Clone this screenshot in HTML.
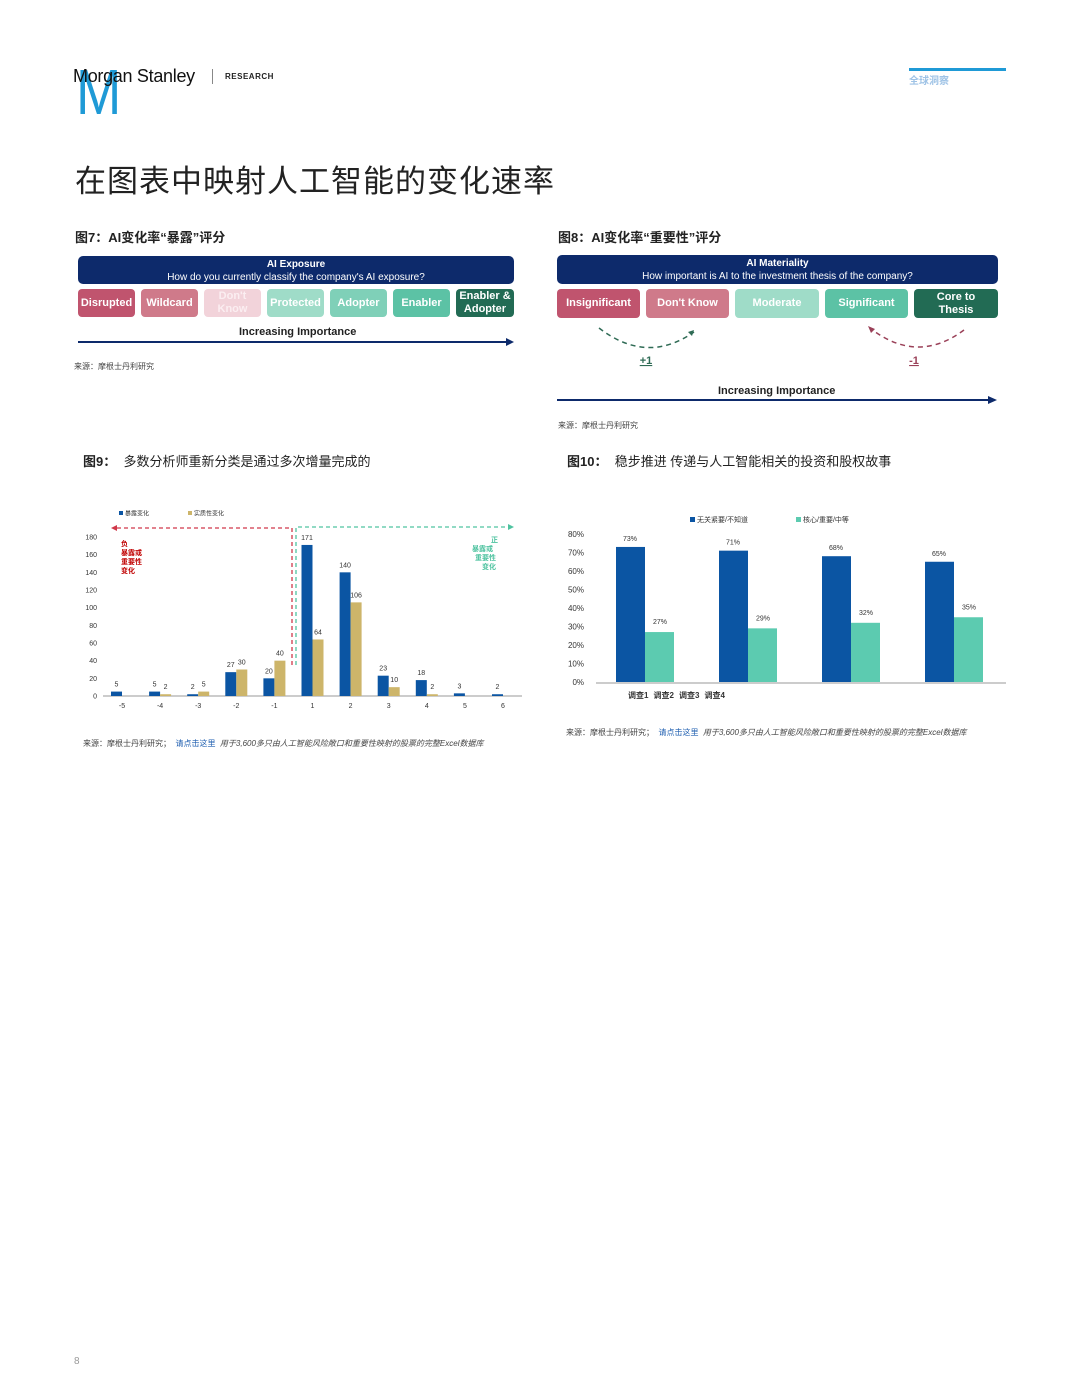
<!DOCTYPE html>
<html><head><meta charset="utf-8"><style>
body{margin:0;background:#fff;}
#page{position:relative;width:1080px;height:1398px;overflow:hidden;font-family:"Liberation Sans","Noto Sans CJK SC",sans-serif;color:#222;}
.abs{position:absolute;}
.box{position:absolute;border-radius:4px;color:#fff;font-weight:bold;font-size:11px;display:flex;align-items:center;justify-content:center;text-align:center;line-height:13px;box-sizing:border-box;}
.hdr{position:absolute;background:#0d2a6b;border-radius:5px;color:#fff;text-align:center;font-size:10px;line-height:13px;padding-top:2px;box-sizing:border-box;}
.src{position:absolute;font-size:8px;color:#444;}
</style></head><body><div id="page">

<div class="abs" style="left:76px;top:60px;font-size:64px;color:#1f9ad6;line-height:64px;transform:scaleX(0.85);transform-origin:left top;">M</div>
<div class="abs" style="left:73px;top:66px;font-size:18px;letter-spacing:-0.3px;color:#111;">Morgan Stanley</div>
<div class="abs" style="left:212px;top:69px;width:1px;height:15px;background:#888;"></div>
<div class="abs" style="left:225px;top:72px;font-size:8px;font-weight:bold;letter-spacing:0.5px;">RESEARCH</div>
<div class="abs" style="left:909px;top:68px;width:97px;height:3px;background:#1f9ad6;"></div>
<div class="abs" style="left:909px;top:72px;font-size:10px;color:#9fc3e6;font-weight:bold;">全球洞察</div>

<div class="abs" style="left:75px;top:156px;font-size:31px;color:#222;letter-spacing:1px;">在图表中映射人工智能的变化速率</div>

<!-- Fig 7 -->
<div class="abs" style="left:75px;top:227px;font-size:13px;font-weight:bold;">图7：AI变化率“暴露”评分</div>
<div class="hdr" style="left:78px;top:256px;width:436px;height:28px;"><b>AI Exposure</b><br>How do you currently classify the company's AI exposure?</div>
<div class="box" style="left:78px;top:289px;width:57px;height:28px;background:#c0546e;">Disrupted</div>
<div class="box" style="left:141px;top:289px;width:57px;height:28px;background:#cf7a8a;">Wildcard</div>
<div class="box" style="left:204px;top:289px;width:57px;height:28px;background:#f2d3da;color:#fbeef1;">Don't<br>Know</div>
<div class="box" style="left:267px;top:289px;width:57px;height:28px;background:#9fdcc8;">Protected</div>
<div class="box" style="left:330px;top:289px;width:57px;height:28px;background:#7fd0b8;">Adopter</div>
<div class="box" style="left:393px;top:289px;width:57px;height:28px;background:#5cc2a5;">Enabler</div>
<div class="box" style="left:456px;top:289px;width:58px;height:28px;background:#226b54;">Enabler &amp;<br>Adopter</div>
<div class="abs" style="left:239px;top:326px;font-size:11px;font-weight:bold;">Increasing Importance</div>
<svg class="abs" style="left:78px;top:337px" width="440" height="10"><line x1="0" y1="5" x2="430" y2="5" stroke="#0d2a6b" stroke-width="2"/><polygon points="428,1 436,5 428,9" fill="#0d2a6b"/></svg>
<div class="src" style="left:74px;top:361px;">来源：摩根士丹利研究</div>

<!-- Fig 8 -->
<div class="abs" style="left:558px;top:227px;font-size:13px;font-weight:bold;">图8：AI变化率“重要性”评分</div>
<div class="hdr" style="left:557px;top:255px;width:441px;height:29px;"><b>AI Materiality</b><br>How important is AI to the investment thesis of the company?</div>
<div class="box" style="left:557px;top:289px;width:83px;height:29px;background:#c0546e;">Insignificant</div>
<div class="box" style="left:646px;top:289px;width:83px;height:29px;background:#cf7a8a;">Don't Know</div>
<div class="box" style="left:735px;top:289px;width:84px;height:29px;background:#9fdcc8;">Moderate</div>
<div class="box" style="left:825px;top:289px;width:83px;height:29px;background:#5cc2a5;">Significant</div>
<div class="box" style="left:914px;top:289px;width:84px;height:29px;background:#226b54;">Core to<br>Thesis</div>
<svg class="abs" style="left:557px;top:320px" width="441" height="90">
<path d="M42,8 Q90,45 137,12" fill="none" stroke="#2f6b55" stroke-width="1.5" stroke-dasharray="5,4"/><polygon points="137,10 131,12 135,16" fill="#2f6b55"/>
<path d="M407,10 Q360,45 313,8" fill="none" stroke="#9a4058" stroke-width="1.5" stroke-dasharray="5,4"/><polygon points="311,6 314,13 318,9" fill="#9a4058"/>
<text x="89" y="44" font-size="11" font-weight="bold" fill="#2f6b55" text-anchor="middle" text-decoration="underline" font-family="Liberation Sans">+1</text>
<text x="357" y="44" font-size="11" font-weight="bold" fill="#9a4058" text-anchor="middle" text-decoration="underline" font-family="Liberation Sans">-1</text>
<line x1="0" y1="80" x2="432" y2="80" stroke="#0d2a6b" stroke-width="2"/><polygon points="431,76 440,80 431,84" fill="#0d2a6b"/>
</svg>
<div class="abs" style="left:718px;top:385px;font-size:11px;font-weight:bold;">Increasing Importance</div>
<div class="src" style="left:558px;top:420px;">来源：摩根士丹利研究</div>

<!-- Fig 9 -->
<div class="abs" style="left:83px;top:451px;font-size:13px;"><b>图9：</b>&nbsp; 多数分析师重新分类是通过多次增量完成的</div>
<svg id="c9" class="abs" style="left:0;top:0" width="1080" height="760"></svg>
<div class="src" style="left:83px;top:738px;width:440px;line-height:12px;">来源：摩根士丹利研究； &nbsp;<span style="color:#1f5fb0">请点击这里</span> &nbsp;<i>用于3,600多只由人工智能风险敞口和重要性映射的股票的完整Excel数据库</i></div>

<!-- Fig 10 -->
<div class="abs" style="left:567px;top:451px;font-size:13px;"><b>图10：</b>&nbsp; 稳步推进 传递与人工智能相关的投资和股权故事</div>
<svg id="c10" class="abs" style="left:0;top:0" width="1080" height="760"></svg>
<div class="src" style="left:566px;top:727px;width:440px;line-height:12px;">来源：摩根士丹利研究； &nbsp;<span style="color:#1f5fb0">请点击这里</span> &nbsp;<i>用于3,600多只由人工智能风险敞口和重要性映射的股票的完整Excel数据库</i></div>

<div class="abs" style="left:74px;top:1356px;font-size:10px;color:#999;">8</div>

<script>
const NS='http://www.w3.org/2000/svg';
const c9Cats=['-5','-4','-3','-2','-1','1','2','3','4','5','6'];
const c9Exposure=[5,5,2,27,20,171,140,23,18,3,2];
const c9Material=[null,2,5,30,40,64,106,10,2,null,null];
const c9Ticks=[0,20,40,60,80,100,120,140,160,180];
const c10Cats=['调查1','调查2','调查3','调查4'];
const c10Low=[73,71,68,65];
const c10High=[27,29,32,35];
const c10Ticks=[0,10,20,30,40,50,60,70,80];

function mk(p,tag,a,t){const e=document.createElementNS(NS,tag);for(const k in a)e.setAttribute(k,a[k]);if(t!==undefined)e.textContent=t;p.appendChild(e);return e;}
const F='Liberation Sans, Noto Sans CJK SC, sans-serif';

// Fig 9
const s9=document.getElementById('c9');
const y9=v=>696-v*(159/180);
const x9=i=>122+i*38.1;
c9Ticks.forEach(t=>{const e=mk(s9,'text',{x:97,y:y9(t)+2.5,'font-size':7,'text-anchor':'end','font-family':F,fill:'#333'},t);

});
mk(s9,'line',{x1:103,y1:696,x2:522,y2:696,stroke:'#999','stroke-width':1});
c9Cats.forEach((c,i)=>{
 const cx=x9(i);
 const lab=mk(s9,'text',{x:cx,y:708,'font-size':7,'text-anchor':'middle','font-family':F,fill:'#333'},c);
 
 
 const v=c9Exposure[i];
 const b=mk(s9,'rect',{x:cx-11,y:y9(v),width:11,height:696-y9(v),fill:'#0b55a3'});
 
 
 mk(s9,'text',{x:cx-5.5,y:y9(v)-5,'font-size':7,'text-anchor':'middle','font-family':F,fill:'#333'},v);
 const m=c9Material[i];
 if(m!==null){
  const b2=mk(s9,'rect',{x:cx,y:y9(m),width:11,height:696-y9(m),fill:'#cdb56a'});
  
  
  mk(s9,'text',{x:cx+5.5,y:y9(m)-5,'font-size':7,'text-anchor':'middle','font-family':F,fill:'#333'},m);
 }
});
mk(s9,'rect',{x:119,y:511,width:4,height:4,fill:'#0b55a3'});
mk(s9,'text',{x:125,y:515.5,'font-size':6,'font-family':F,fill:'#333'},'暴露变化');
mk(s9,'rect',{x:188,y:511,width:4,height:4,fill:'#cdb56a'});
mk(s9,'text',{x:194,y:515.5,'font-size':6,'font-family':F,fill:'#333'},'实质性变化');
mk(s9,'path',{d:'M292,665 L292,528 L114,528',fill:'none',stroke:'#d0384a','stroke-width':1.3,'stroke-dasharray':'4,3'});
mk(s9,'polygon',{points:'111,528 117,525 117,531',fill:'#d0384a'});
mk(s9,'path',{d:'M296,665 L296,527 L510,527',fill:'none',stroke:'#4fc3a0','stroke-width':1.3,'stroke-dasharray':'4,3'});
mk(s9,'polygon',{points:'514,527 508,524 508,530',fill:'#4fc3a0'});
['负','暴露或','重要性','变化'].forEach((t,i)=>mk(s9,'text',{x:121,y:546+i*9,'font-size':7,'font-weight':'bold','font-family':F,fill:'#c00000'},t));
['正','暴露或','重要性','变化'].forEach((t,i)=>mk(s9,'text',{x:[491,472,475,482][i],y:542+i*9,'font-size':7,'font-weight':'bold','font-family':F,fill:'#4fc3a0'},t));

// Fig 10
const s10=document.getElementById('c10');
const y10=v=>682-v*(148/80);
const x10=i=>645+i*103;
c10Ticks.forEach(t=>{const e=mk(s10,'text',{x:584,y:y10(t)+3,'font-size':8,'text-anchor':'end','font-family':F,fill:'#333'},t+'%');

});
mk(s10,'line',{x1:596,y1:683,x2:1006,y2:683,stroke:'#999','stroke-width':1});
c10Cats.forEach((c,i)=>{
 const cx=x10(i);
 const a=c10Low[i],b=c10High[i];
 const r1=mk(s10,'rect',{x:cx-29,y:y10(a),width:29,height:682-y10(a),fill:'#0b55a3'});
 
 
 mk(s10,'text',{x:cx-15,y:y10(a)-6,'font-size':7,'text-anchor':'middle','font-family':F,fill:'#333'},a+'%');
 const r2=mk(s10,'rect',{x:cx,y:y10(b),width:29,height:682-y10(b),fill:'#5ccbb0'});
 
 
 mk(s10,'text',{x:cx+15,y:y10(b)-8,'font-size':7,'text-anchor':'middle','font-family':F,fill:'#333'},b+'%');
 const l=mk(s10,'text',{x:628+i*25.5,y:698,'font-size':8,'font-weight':'bold','font-family':F,fill:'#333'},c);
 
 
});
mk(s10,'rect',{x:690,y:517,width:5,height:5,fill:'#0b55a3'});
mk(s10,'text',{x:697,y:522,'font-size':7,'font-family':F,fill:'#333'},'无关紧要/不知道');
mk(s10,'rect',{x:796,y:517,width:5,height:5,fill:'#5ccbb0'});
mk(s10,'text',{x:803,y:522,'font-size':7,'font-family':F,fill:'#333'},'核心/重要/中等');
</script>
</div></body></html>
